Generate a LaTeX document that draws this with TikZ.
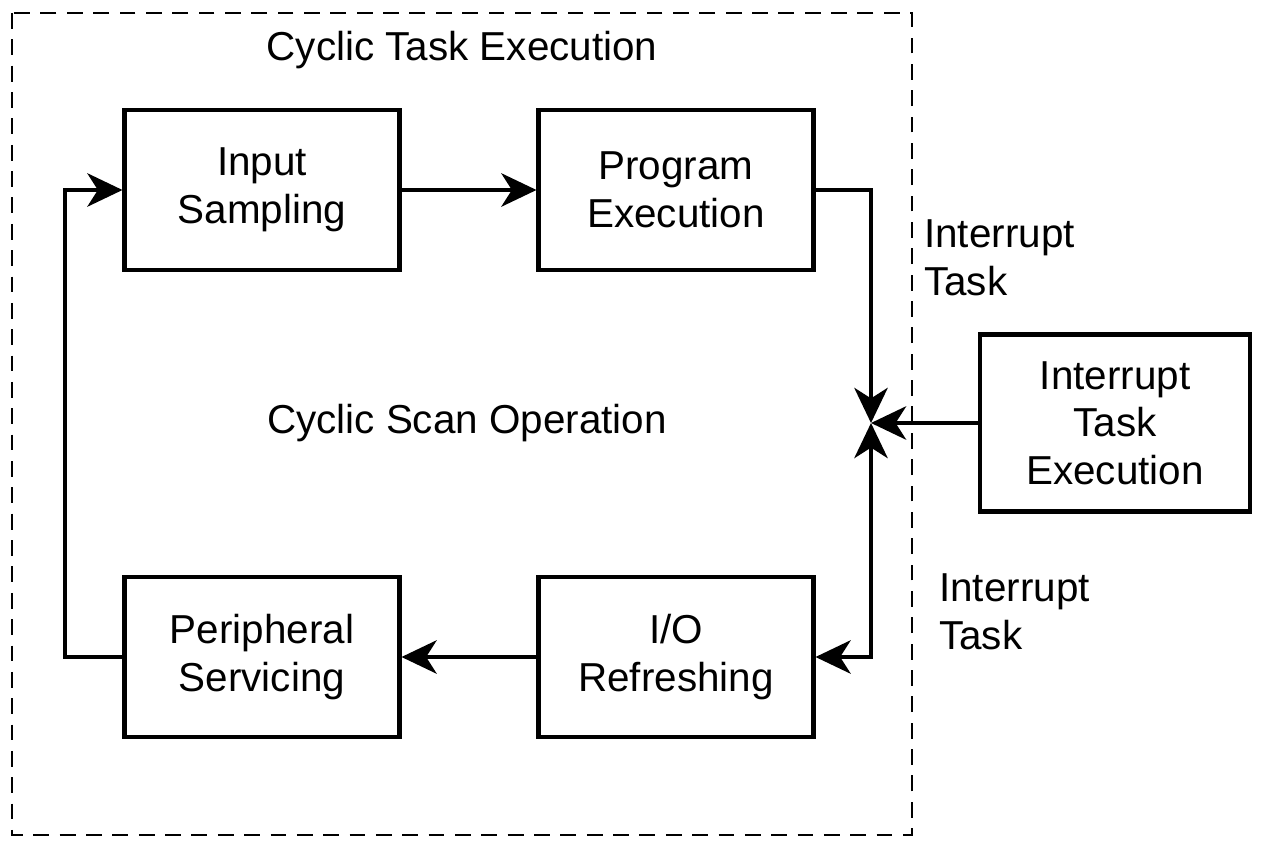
\documentclass[tikz,border=0pt]{standalone}
\usepackage{fontspec}
\setmainfont{Liberation Sans}
\usetikzlibrary{arrows.meta}
\begin{document}
\begin{tikzpicture}[x=0.02cm,y=-0.02cm,
  tip/.tip={Triangle[length=20pt,width=19pt,inset=6pt]},
  box/.style={draw,line width=2.3pt,minimum width=275*0.02cm,minimum height=160*0.02cm,align=center,font=\fontsize{23}{27}\selectfont},
  lbl/.style={font=\fontsize{23}{27}\selectfont,align=left},
  arr/.style={line width=2.3pt,-tip}]
\useasboundingbox (0,0) rectangle (1264,848);
\draw[line width=1.4pt,dash pattern=on 9pt off 6pt] (12,13) rectangle (912,835);
\node[lbl] (title) at (462,50) {Cyclic Task Execution};
\node[lbl] (scan) at (467,423) {Cyclic Scan Operation};
\node[box] (in) at (262,190) {Input\\Sampling};
\node[box] (pe) at (676,190) {Program\\Execution};
\node[box] (ps) at (262,657) {Peripheral\\Servicing};
\node[box] (io) at (676,657) {I/O\\Refreshing};
\node[box,minimum width=270*0.02cm,minimum height=177*0.02cm] (it) at (1115,423) {Interrupt\\Task\\Execution};
\node[lbl,anchor=west] (l1) at (918,258) {Interrupt\\Task};
\node[lbl,anchor=west] (l2) at (933,612) {Interrupt\\Task};
\coordinate (j) at (871,423);
\coordinate (tl) at (65,190);
\coordinate (bl) at (65,657);
\coordinate (tr) at (871,190);
\coordinate (br) at (871,657);
\draw[arr] (in) -- (pe);
\draw[arr] (io) -- (ps);
\draw[arr] (ps.west) -- (bl) -- (tl) -- (in.west);
\draw[arr] (pe.east) -- (tr) -- (j);
\draw[arr] (it.west) -- (j);
\draw[arr,tip-tip] (io.east) -- (br) -- (j);
\end{tikzpicture}
\end{document}
